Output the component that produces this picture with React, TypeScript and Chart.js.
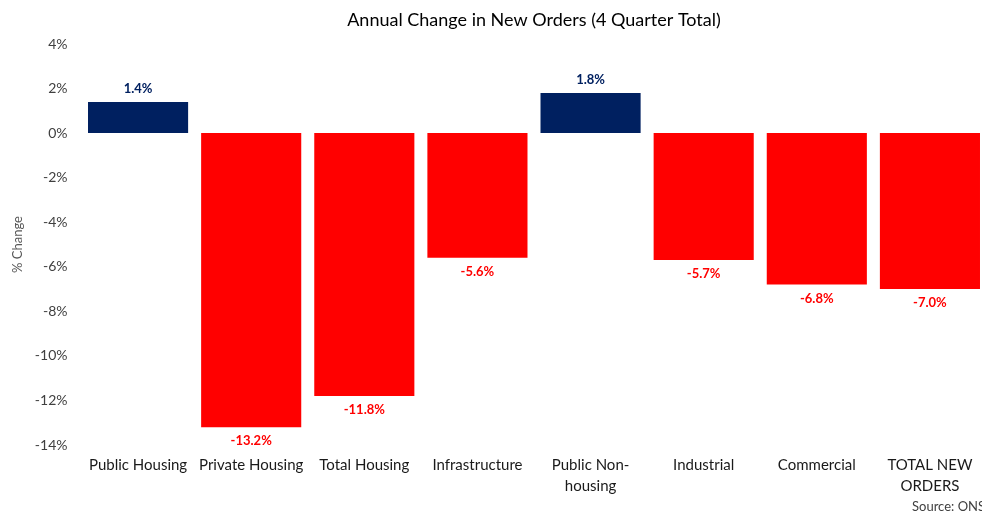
import React, { useEffect, useRef } from "react";
import { Chart, registerables } from "chart.js";

Chart.register(...registerables);

const categories: (string | string[])[] = [
  "Public Housing",
  "Private Housing",
  "Total Housing",
  "Infrastructure",
  ["Public Non-", "housing"],
  "Industrial",
  "Commercial",
  ["TOTAL NEW", "ORDERS"],
];
const values: number[] = [1.4, -13.2, -11.8, -5.6, 1.8, -5.7, -6.8, -7.0];
const yMin = -14;
const yMax = 4;
const yStep = 2;

const NAVY = "#002060";
const RED = "#FF0000";
const FONT = "Lato, 'Open Sans', sans-serif";

export default function App() {
  const ref = useRef<HTMLCanvasElement | null>(null);
  useEffect(() => {
    document.body.style.margin = "0";
    document.body.style.overflow = "hidden";
    const canvas = ref.current!;
    const labelsPlugin = {
      id: "extras",
      afterDatasetsDraw(chart: any) {
        const ctx = chart.ctx;
        const meta = chart.getDatasetMeta(0);
        ctx.save();
        ctx.font = `bold 13px ${FONT}`;
        ctx.textAlign = "center";
        ctx.textBaseline = "middle";
        meta.data.forEach((bar: any, i: number) => {
          const v = values[i];
          const txt = v.toFixed(1) + "%";
          if (v >= 0) {
            ctx.fillStyle = NAVY;
            ctx.fillText(txt, bar.x, bar.y - 13);
          } else {
            ctx.fillStyle = RED;
            ctx.fillText(txt, bar.x, bar.y + 14);
          }
        });
        const ca = chart.chartArea;
        ctx.fillStyle = "#000";
        ctx.font = `18px ${FONT}`;
        ctx.fillText("Annual Change in New Orders (4 Quarter Total)", (ca.left + ca.right) / 2, 20);
        ctx.fillStyle = "#404040";
        ctx.font = `13px ${FONT}`;
        ctx.textAlign = "left";
        ctx.fillText("Source: ONS", 912, 507);
        ctx.restore();
      },
    };
    const chart = new Chart(canvas, {
      type: "bar",
      data: {
        labels: categories,
        datasets: [
          {
            data: values,
            backgroundColor: values.map((v) => (v >= 0 ? NAVY : RED)),
            categoryPercentage: 1,
            barPercentage: 0.885,
          },
        ],
      },
      options: {
        responsive: false,
        animation: false,
        layout: { padding: { top: 44, right: 13.5, bottom: 0, left: 0 } },
        plugins: {
          legend: { display: false },
          title: { display: false },
          tooltip: { enabled: false },
        },
        scales: {
          x: {
            grid: { display: false, drawTicks: false },
            border: { display: false },
            ticks: {
              color: "#1a1a1a",
              font: { family: FONT, size: 15, lineHeight: 1.4 },
              padding: 10,
              maxRotation: 0,
              autoSkip: false,
            },
            afterFit(scale: any) {
              scale.height = 69;
            },
          },
          y: {
            min: yMin,
            max: yMax,
            grid: { display: false, drawTicks: false },
            border: { display: false },
            ticks: {
              stepSize: yStep,
              color: "#404040",
              font: { family: FONT, size: 14 },
              padding: 14,
              callback: (v: any) => v + "%",
            },
            title: {
              display: true,
              text: "% Change",
              color: "#595959",
              font: { family: FONT, size: 13 },
              padding: { top: 10, bottom: 4 },
            },
            afterFit(scale: any) {
              scale.width = 81.5;
            },
          },
        },
      },
      plugins: [labelsPlugin],
    });
    return () => chart.destroy();
  }, []);
  return (
    <div style={{ position: "absolute", left: 0, top: 0, width: 982, height: 514, overflow: "hidden", background: "#fff" }}>
      <canvas ref={ref} width={1000} height={514} style={{ width: 1000, height: 514 }} />
    </div>
  );
}
